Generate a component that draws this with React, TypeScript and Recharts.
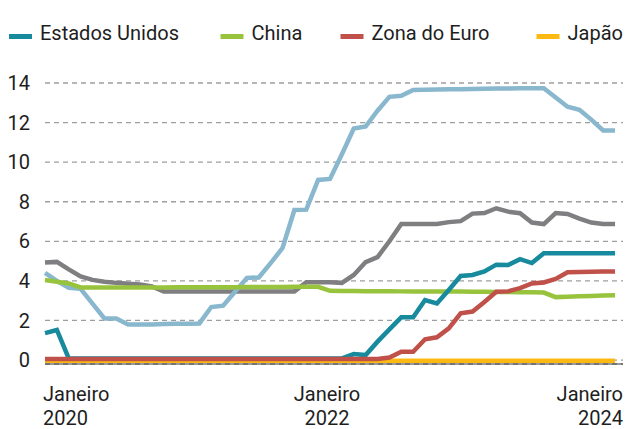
import React from "react";
import { LineChart, Line, XAxis, YAxis, CartesianGrid } from "recharts";

const months = [
  "2020-01", "2020-02", "2020-03", "2020-04", "2020-05", "2020-06", "2020-07", "2020-08", "2020-09", "2020-10", "2020-11", "2020-12",
  "2021-01", "2021-02", "2021-03", "2021-04", "2021-05", "2021-06", "2021-07", "2021-08", "2021-09", "2021-10", "2021-11", "2021-12",
  "2022-01", "2022-02", "2022-03", "2022-04", "2022-05", "2022-06", "2022-07", "2022-08", "2022-09", "2022-10", "2022-11", "2022-12",
  "2023-01", "2023-02", "2023-03", "2023-04", "2023-05", "2023-06", "2023-07", "2023-08", "2023-09", "2023-10", "2023-11", "2023-12",
  "2024-01",
];

const tickMonths = ["2020-01", "2022-01", "2024-01"];
const tickLabels = [["Janeiro", "2020"], ["Janeiro", "2022"], ["Janeiro", "2024"]];
const yTicks = [0, 2, 4, 6, 8, 10, 12, 14];

const brasil = [
  4.4, 4.0, 3.65, 3.6, 2.85, 2.1, 2.1, 1.8, 1.8, 1.8, 1.82, 1.83,
  1.84, 1.85, 2.68, 2.75, 3.45, 4.15, 4.17, 4.9, 5.66, 7.58, 7.6, 9.1,
  9.15, 10.4, 11.7, 11.8, 12.6, 13.3, 13.35, 13.65, 13.66, 13.67, 13.68, 13.69,
  13.7, 13.71, 13.72, 13.72, 13.73, 13.74, 13.74, 13.27, 12.8, 12.65, 12.15, 11.6,
  11.6,
];

const outros = [
  4.93, 4.96, 4.58, 4.22, 4.05, 3.96, 3.9, 3.86, 3.82, 3.72, 3.47, 3.47,
  3.47, 3.47, 3.47, 3.47, 3.47, 3.47, 3.47, 3.47, 3.47, 3.47, 3.93, 3.93,
  3.93, 3.9, 4.3, 4.95, 5.2, 6.0, 6.87, 6.87, 6.87, 6.87, 6.97, 7.02,
  7.4, 7.43, 7.67, 7.5, 7.42, 6.95, 6.87, 7.43, 7.38, 7.15, 6.95, 6.87,
  6.87,
];

const china = [
  4.04, 3.96, 3.87, 3.67, 3.67, 3.67, 3.67, 3.67, 3.67, 3.67, 3.67, 3.68,
  3.68, 3.68, 3.68, 3.68, 3.68, 3.69, 3.69, 3.69, 3.69, 3.7, 3.7, 3.7,
  3.5, 3.49, 3.49, 3.48, 3.48, 3.48, 3.47, 3.47, 3.47, 3.46, 3.46, 3.46,
  3.45, 3.45, 3.44, 3.44, 3.43, 3.42, 3.41, 3.18, 3.2, 3.22, 3.24, 3.26,
  3.28,
];

const estadosUnidos = [
  1.36, 1.52, 0.08, 0.08, 0.08, 0.08, 0.08, 0.08, 0.08, 0.08, 0.08, 0.08,
  0.08, 0.08, 0.08, 0.08, 0.08, 0.08, 0.08, 0.08, 0.08, 0.08, 0.08, 0.08,
  0.08, 0.08, 0.3, 0.25, 0.93, 1.55, 2.16, 2.16, 3.03, 2.86, 3.54, 4.25,
  4.3, 4.48, 4.82, 4.8, 5.1, 4.9, 5.4, 5.4, 5.4, 5.4, 5.4, 5.4,
  5.4,
];

const japao = [
  -0.03, -0.03, -0.03, -0.03, -0.03, -0.03, -0.03, -0.03, -0.03, -0.03, -0.03, -0.03,
  -0.03, -0.03, -0.03, -0.03, -0.03, -0.03, -0.03, -0.03, -0.03, -0.03, -0.03, -0.03,
  -0.03, -0.03, -0.03, -0.03, -0.03, -0.03, -0.03, -0.03, -0.03, -0.03, -0.03, -0.03,
  -0.03, -0.03, -0.03, -0.03, -0.03, -0.03, -0.03, -0.03, -0.03, -0.03, -0.03, -0.03,
  -0.03,
];

const zonaDoEuro = [
  0.05, 0.05, 0.05, 0.05, 0.05, 0.05, 0.05, 0.05, 0.05, 0.05, 0.05, 0.05,
  0.05, 0.05, 0.05, 0.05, 0.05, 0.05, 0.05, 0.05, 0.05, 0.05, 0.05, 0.05,
  0.05, 0.05, 0.05, 0.05, 0.05, 0.13, 0.42, 0.42, 1.05, 1.15, 1.6, 2.36,
  2.45, 2.93, 3.45, 3.47, 3.63, 3.87, 3.92, 4.1, 4.44, 4.45, 4.46, 4.47,
  4.48,
];

const series = [
  { key: "outros", name: "Outros", color: "#7f7f82", values: outros, legend: false },
  { key: "brasil", name: "Brasil", color: "#89b7cd", values: brasil, legend: false },
  { key: "china", name: "China", color: "#98c43d", values: china, legend: true },
  { key: "eua", name: "Estados Unidos", color: "#178a9e", values: estadosUnidos, legend: true },
  { key: "japao", name: "Japão", color: "#fdb913", values: japao, legend: true },
  { key: "euro", name: "Zona do Euro", color: "#c0504a", values: zonaDoEuro, legend: true },
];

const legendOrder = ["eua", "china", "euro", "japao"];
const legendX = [9, 220.5, 340.5, 536.5];

const data = months.map((m, i) => {
  const row: Record<string, number | string> = { i, month: m };
  series.forEach((s) => {
    row[s.key] = s.values[i];
  });
  return row;
});

const tickIndexes = tickMonths.map((m) => months.indexOf(m));

const FONT = "Roboto, 'Noto Sans', sans-serif";
const TEXT = "#1e1e1e";

const XTick = (props: any) => {
  const { x, y, payload } = props;
  const k = tickIndexes.indexOf(payload.value);
  if (k < 0) return null;
  const [l1, l2] = tickLabels[k];
  let anchor: "start" | "middle" | "end" = "middle";
  let tx = x - 3;
  if (k === 0) {
    anchor = "start";
    tx = x - 2;
  } else if (k === tickLabels.length - 1) {
    anchor = "end";
    tx = x + 8;
  }
  return (
    <text x={tx} y={y} textAnchor={anchor} fill={TEXT} fontSize={20} fontFamily={FONT}>
      <tspan x={tx} y={y + 37}>{l1}</tspan>
      <tspan x={tx} y={y + 61}>{l2}</tspan>
    </text>
  );
};

const Legend4 = () => {
  const items = legendOrder.map((k) => series.find((s) => s.key === k)!);
  return (
    <svg width={628} height={60} style={{ position: "absolute", left: 0, top: 0 }}>
      {items.map((s, idx) => (
        <g key={s.key}>
          <rect x={legendX[idx]} y={34} width={23} height={5} fill={s.color} />
          <text x={legendX[idx] + 31} y={40} fontSize={20} fontFamily={FONT} fill={TEXT}>
            {s.name}
          </text>
        </g>
      ))}
    </svg>
  );
};

export default function App() {
  return (
    <div style={{ position: "absolute", left: 0, top: 0, width: 628, height: 429, background: "#fff" }}>
      <LineChart
        width={628}
        height={429}
        data={data}
        margin={{ top: 83, right: 5, bottom: 0, left: 0 }}
      >
        <CartesianGrid
          vertical={false}
          stroke="#9e9e9e"
          strokeWidth={1.3}
          strokeDasharray="5 4"
        />
        <XAxis
          dataKey="i"
          type="number"
          domain={[0, 48.67]}
          ticks={tickIndexes}
          tick={<XTick />}
          tickLine={false}
          tickSize={0}
          tickMargin={0}
          height={65}
          axisLine={{ stroke: "#333", strokeWidth: 1.2 }}
          interval={0}
        />
        <YAxis
          type="number"
          domain={[-0.2, 14]}
          ticks={yTicks}
          width={45}
          axisLine={false}
          tickLine={false}
          tickSize={0}
          tickMargin={15}
          interval={0}
          tick={{ fill: TEXT, fontSize: 20, fontFamily: FONT }}
        />
        {series.map((s) => (
          <Line
            key={s.key}
            dataKey={s.key}
            name={s.name}
            stroke={s.color}
            strokeWidth={4.5}
            dot={false}
            activeDot={false}
            type="linear"
            isAnimationActive={false}
          />
        ))}
      </LineChart>
      <Legend4 />
    </div>
  );
}
